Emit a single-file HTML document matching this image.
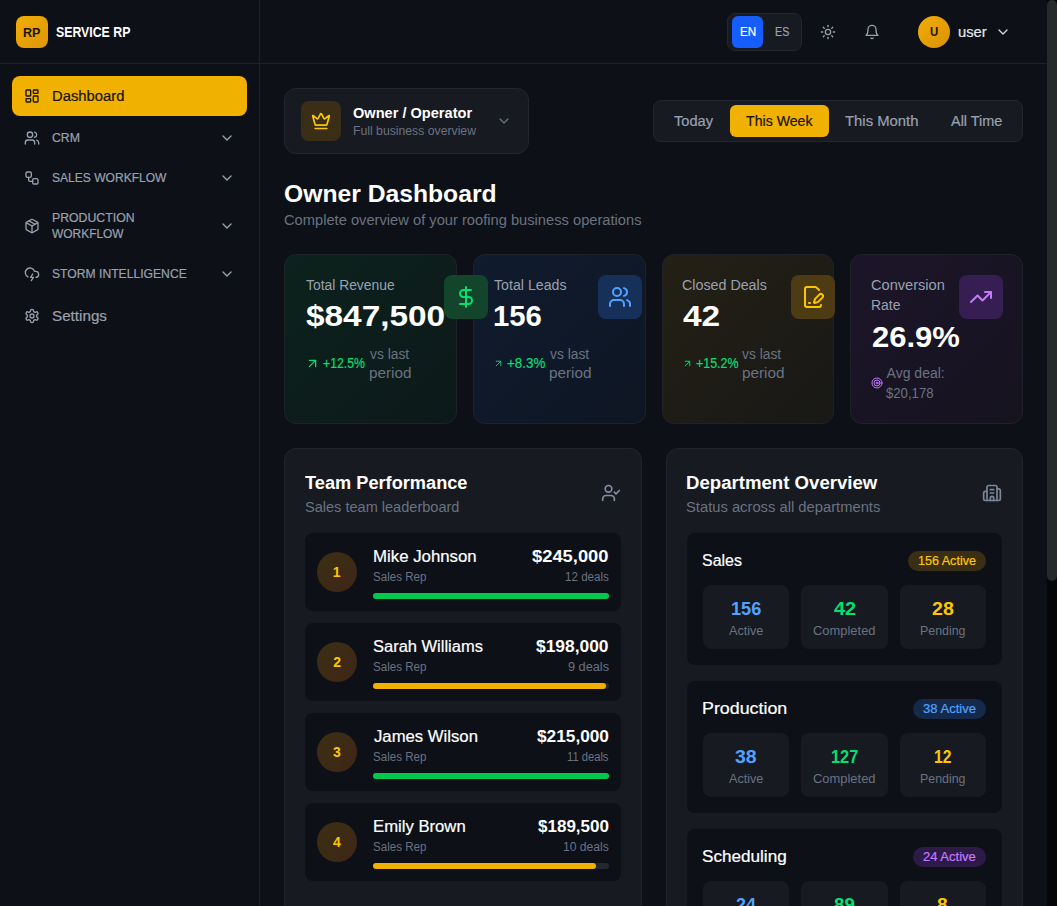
<!DOCTYPE html>
<html lang="en">
<head>
<meta charset="utf-8">
<title>Service RP - Owner Dashboard</title>
<style>
*{box-sizing:border-box;margin:0;padding:0}
html,body{width:1057px;height:906px;overflow:hidden;background:#0d1017}
body{position:relative;font-family:"Liberation Sans",sans-serif;color:#fff}
div,svg,span{position:absolute;display:block}
span{white-space:nowrap;line-height:1;transform-origin:0 0}
span.m{-webkit-text-stroke:.2px currentColor}
.sb i{position:absolute;left:0;top:0;width:10px;height:581px;border-radius:5px;background:#26292e}
</style>
</head>
<body>
<aside>
<div style="left:0px;top:63px;width:259px;height:1px;background:#1d2129;"></div>
<div style="left:259px;top:0px;width:1px;height:906px;background:#1d2129;"></div>
<div style="left:16px;top:16px;width:32px;height:32px;background:linear-gradient(135deg,#f2ae04,#de9505);border-radius:8px;"></div>
<span style="left:23.41px;top:25.6px;font-size:13px;color:#1b1303;font-weight:700;transform:scaleX(0.9659);">RP</span>
<span style="left:56.49px;top:25.15px;font-size:14px;color:#ffffff;font-weight:700;transform:scaleX(0.8794);">SERVICE RP</span>
<nav>
<div style="left:12px;top:76px;width:235px;height:40px;background:#f0b100;border-radius:8px;"></div>
<svg style="left:24px;top:88px" width="16" height="16" viewBox="0 0 24 24" fill="none" stroke="#1b1303" stroke-width="2" stroke-linecap="round" stroke-linejoin="round"><rect width="7" height="9" x="3" y="3" rx="1"/><rect width="7" height="5" x="14" y="3" rx="1"/><rect width="7" height="9" x="14" y="12" rx="1"/><rect width="7" height="5" x="3" y="16" rx="1"/></svg>
<span class="m" style="left:51.55px;top:89.05px;font-size:14px;color:#1b1303;transform:scaleX(1.0577);">Dashboard</span>
<svg style="left:24px;top:130px" width="16" height="16" viewBox="0 0 24 24" fill="none" stroke="#99a1af" stroke-width="2" stroke-linecap="round" stroke-linejoin="round"><path d="M16 21v-2a4 4 0 0 0-4-4H6a4 4 0 0 0-4 4v2"/><circle cx="9" cy="7" r="4"/><path d="M22 21v-2a4 4 0 0 0-3-3.87"/><path d="M16 3.13a4 4 0 0 1 0 7.75"/></svg>
<span class="m" style="left:52.42px;top:131.54px;font-size:12px;color:#99a1af;transform:scaleX(1.0241);">CRM</span>
<svg style="left:219px;top:130px" width="16" height="16" viewBox="0 0 24 24" fill="none" stroke="#99a1af" stroke-width="2" stroke-linecap="round" stroke-linejoin="round"><path d="m6 9 6 6 6-6"/></svg>
<svg style="left:24px;top:170px" width="16" height="16" viewBox="0 0 24 24" fill="none" stroke="#99a1af" stroke-width="2" stroke-linecap="round" stroke-linejoin="round"><rect width="8" height="8" x="3" y="3" rx="2"/><path d="M7 11v4a2 2 0 0 0 2 2h4"/><rect width="8" height="8" x="13" y="13" rx="2"/></svg>
<span class="m" style="left:52.29px;top:171.84px;font-size:12px;color:#99a1af;transform:scaleX(1.0039);">SALES WORKFLOW</span>
<svg style="left:219px;top:170px" width="16" height="16" viewBox="0 0 24 24" fill="none" stroke="#99a1af" stroke-width="2" stroke-linecap="round" stroke-linejoin="round"><path d="m6 9 6 6 6-6"/></svg>
<svg style="left:24px;top:218px" width="16" height="16" viewBox="0 0 24 24" fill="none" stroke="#99a1af" stroke-width="2" stroke-linecap="round" stroke-linejoin="round"><path d="m7.5 4.27 9 5.15"/><path d="M21 8a2 2 0 0 0-1-1.73l-7-4a2 2 0 0 0-2 0l-7 4A2 2 0 0 0 3 8v8a2 2 0 0 0 1 1.73l7 4a2 2 0 0 0 2 0l7-4A2 2 0 0 0 21 16Z"/><path d="m3.3 7 8.7 5 8.7-5"/><path d="M12 22V12"/></svg>
<span class="m" style="left:52.36px;top:211.94px;font-size:12px;color:#99a1af;transform:scaleX(1.0237);">PRODUCTION</span>
<span class="m" style="left:51.64px;top:227.84px;font-size:12px;color:#99a1af;transform:scaleX(0.9948);">WORKFLOW</span>
<svg style="left:219px;top:218px" width="16" height="16" viewBox="0 0 24 24" fill="none" stroke="#99a1af" stroke-width="2" stroke-linecap="round" stroke-linejoin="round"><path d="m6 9 6 6 6-6"/></svg>
<svg style="left:24px;top:266px" width="16" height="16" viewBox="0 0 24 24" fill="none" stroke="#99a1af" stroke-width="2" stroke-linecap="round" stroke-linejoin="round"><path d="M6 16.326A7 7 0 1 1 15.71 8h1.79a4.5 4.5 0 0 1 .5 8.973"/><path d="m13 12-3 5h4l-3 5"/></svg>
<span class="m" style="left:51.66px;top:268.04px;font-size:12px;color:#99a1af;transform:scaleX(1.0121);">STORM INTELLIGENCE</span>
<svg style="left:219px;top:266px" width="16" height="16" viewBox="0 0 24 24" fill="none" stroke="#99a1af" stroke-width="2" stroke-linecap="round" stroke-linejoin="round"><path d="m6 9 6 6 6-6"/></svg>
<svg style="left:24px;top:308px" width="16" height="16" viewBox="0 0 24 24" fill="none" stroke="#99a1af" stroke-width="2" stroke-linecap="round" stroke-linejoin="round"><path d="M12.22 2h-.44a2 2 0 0 0-2 2v.18a2 2 0 0 1-1 1.73l-.43.25a2 2 0 0 1-2 0l-.15-.08a2 2 0 0 0-2.73.73l-.22.38a2 2 0 0 0 .73 2.73l.15.1a2 2 0 0 1 1 1.72v.51a2 2 0 0 1-1 1.74l-.15.09a2 2 0 0 0-.73 2.73l.22.38a2 2 0 0 0 2.73.73l.15-.08a2 2 0 0 1 2 0l.43.25a2 2 0 0 1 1 1.73V20a2 2 0 0 0 2 2h.44a2 2 0 0 0 2-2v-.18a2 2 0 0 1 1-1.73l.43-.25a2 2 0 0 1 2 0l.15.08a2 2 0 0 0 2.73-.73l.22-.39a2 2 0 0 0-.73-2.73l-.15-.08a2 2 0 0 1-1-1.74v-.5a2 2 0 0 1 1-1.74l.15-.09a2 2 0 0 0 .73-2.73l-.22-.38a2 2 0 0 0-2.73-.73l-.15.08a2 2 0 0 1-2 0l-.43-.25a2 2 0 0 1-1-1.73V4a2 2 0 0 0-2-2z"/><circle cx="12" cy="12" r="3"/></svg>
<span class="m" style="left:51.62px;top:308.55px;font-size:14px;color:#99a1af;transform:scaleX(1.0863);">Settings</span>
</nav></aside>
<header>
<div style="left:260px;top:63px;width:787px;height:1px;background:#1d2129;"></div>
<div style="left:727px;top:13px;width:75px;height:38px;background:#171a21;border-radius:8px;border:1px solid #23272f;"></div>
<div style="left:732px;top:16px;width:31px;height:32px;background:#155dfc;border-radius:6px;"></div>
<span class="m" style="left:740.27px;top:26.04px;font-size:12px;color:#ffffff;transform:scaleX(0.9744);">EN</span>
<span class="m" style="left:775.19px;top:26.04px;font-size:12px;color:#99a1af;transform:scaleX(0.8943);">ES</span>
<svg style="left:820px;top:24px" width="16" height="16" viewBox="0 0 24 24" fill="none" stroke="#99a1af" stroke-width="2" stroke-linecap="round" stroke-linejoin="round"><circle cx="12" cy="12" r="4"/><path d="M12 2v2"/><path d="M12 20v2"/><path d="m4.93 4.93 1.41 1.41"/><path d="m17.66 17.66 1.41 1.41"/><path d="M2 12h2"/><path d="M20 12h2"/><path d="m6.34 17.66-1.41 1.41"/><path d="m19.07 4.93-1.41 1.41"/></svg>
<svg style="left:864px;top:24px" width="16" height="16" viewBox="0 0 24 24" fill="none" stroke="#99a1af" stroke-width="2" stroke-linecap="round" stroke-linejoin="round"><path d="M6 8a6 6 0 0 1 12 0c0 7 3 9 3 9H3s3-2 3-9"/><path d="M10.3 21a1.94 1.94 0 0 0 3.4 0"/></svg>
<div style="left:918px;top:16px;width:32px;height:32px;background:linear-gradient(135deg,#f1ad04,#db9105);border-radius:50%;"></div>
<span style="left:929.98px;top:26.14px;font-size:12px;color:#1b1303;font-weight:700;transform:scaleX(0.9498);">U</span>
<span class="m" style="left:957.82px;top:25.45px;font-size:14px;color:#e5e7eb;transform:scaleX(1.0515);">user</span>
<svg style="left:995px;top:24px" width="16" height="16" viewBox="0 0 24 24" fill="none" stroke="#d1d5dc" stroke-width="2" stroke-linecap="round" stroke-linejoin="round"><path d="m6 9 6 6 6-6"/></svg>
</header>
<main>
<div style="left:284px;top:88px;width:245px;height:66px;background:#171a21;border-radius:12px;border:1px solid #22262e;"></div>
<div style="left:301px;top:101px;width:40px;height:40px;background:#3a2f16;border-radius:8px;"></div>
<svg style="left:311px;top:111px" width="20" height="20" viewBox="0 0 24 24" fill="none" stroke="#fdc700" stroke-width="2" stroke-linecap="round" stroke-linejoin="round"><path d="M11.562 3.266a.5.5 0 0 1 .876 0L15.39 8.87a1 1 0 0 0 1.516.294L21.183 5.5a.5.5 0 0 1 .798.519l-2.834 10.246a1 1 0 0 1-.956.734H5.81a1 1 0 0 1-.957-.734L2.02 6.02a.5.5 0 0 1 .798-.519l4.276 3.664a1 1 0 0 0 1.516-.294z"/><path d="M5 21h14"/></svg>
<span style="left:352.62px;top:106.05px;font-size:14px;color:#ffffff;font-weight:700;transform:scaleX(1.0412);">Owner / Operator</span>
<span style="left:353.09px;top:125.24px;font-size:12px;color:#6a7282;transform:scaleX(1.0187);">Full business overview</span>
<svg style="left:496px;top:113px" width="16" height="16" viewBox="0 0 24 24" fill="none" stroke="#6a7282" stroke-width="2" stroke-linecap="round" stroke-linejoin="round"><path d="m6 9 6 6 6-6"/></svg>
<div style="left:653px;top:100px;width:370px;height:42px;background:#171a21;border-radius:8px;border:1px solid #22262e;"></div>
<div style="left:730px;top:105px;width:99px;height:32px;background:#f0b100;border-radius:6px;"></div>
<span class="m" style="left:673.64px;top:114.15px;font-size:14px;color:#99a1af;transform:scaleX(1.0434);">Today</span>
<span class="m" style="left:745.5px;top:114.15px;font-size:14px;color:#1b1303;transform:scaleX(1.01);">This Week</span>
<span class="m" style="left:845.22px;top:114.15px;font-size:14px;color:#99a1af;transform:scaleX(1.0615);">This Month</span>
<span class="m" style="left:951.45px;top:114.15px;font-size:14px;color:#99a1af;transform:scaleX(1.0312);">All Time</span>
<span style="left:284.06px;top:182.08px;font-size:24px;color:#ffffff;font-weight:700;transform:scaleX(1.0285);">Owner Dashboard</span>
<span style="left:283.96px;top:212.85px;font-size:14px;color:#6a7282;transform:scaleX(1.049);">Complete overview of your roofing business operations</span>
<div style="left:284px;top:254px;width:172.75px;height:170px;background:linear-gradient(135deg,#0c221d 0%,#0c191a 100%);border-radius:12px;border:1px solid #1f2329;"></div>
<div style="left:472.75px;top:254px;width:172.75px;height:170px;background:linear-gradient(135deg,#101b2e 0%,#0e1623 100%);border-radius:12px;border:1px solid #1f2329;"></div>
<div style="left:661.5px;top:254px;width:172.75px;height:170px;background:linear-gradient(135deg,#242015 0%,#181816 100%);border-radius:12px;border:1px solid #1f2329;"></div>
<div style="left:850.25px;top:254px;width:172.75px;height:170px;background:linear-gradient(135deg,#1c1529 0%,#16131f 100%);border-radius:12px;border:1px solid #1f2329;"></div>
<span style="left:306.04px;top:278.25px;font-size:14px;color:#99a1af;transform:scaleX(0.9904);">Total Revenue</span>
<span style="left:305.52px;top:301.41px;font-size:30px;color:#ffffff;font-weight:700;transform:scaleX(1.1119);">$847,500</span>
<svg style="left:304.7px;top:355.5px" width="15" height="15" viewBox="0 0 24 24" fill="none" stroke="#05df72" stroke-width="2" stroke-linecap="round" stroke-linejoin="round"><path d="M7 7h10v10"/><path d="M7 17 17 7"/></svg>
<span class="m" style="left:323.32px;top:355.95px;font-size:14px;color:#05df72;transform:scaleX(0.8763);">+12.5%</span>
<span style="left:370.07px;top:346.55px;font-size:14px;color:#6a7282;transform:scaleX(0.9874);">vs last</span>
<span style="left:369.37px;top:365.95px;font-size:14px;color:#6a7282;transform:scaleX(1.0933);">period</span>
<span style="left:494.32px;top:278.25px;font-size:14px;color:#99a1af;transform:scaleX(1.013);">Total Leads</span>
<span style="left:492.69px;top:301.41px;font-size:30px;color:#ffffff;font-weight:700;transform:scaleX(0.9765);">156</span>
<svg style="left:493.1px;top:357.5px" width="11" height="11" viewBox="0 0 24 24" fill="none" stroke="#05df72" stroke-width="2" stroke-linecap="round" stroke-linejoin="round"><path d="M7 7h10v10"/><path d="M7 17 17 7"/></svg>
<span class="m" style="left:506.68px;top:355.95px;font-size:14px;color:#05df72;transform:scaleX(0.9552);">+8.3%</span>
<span style="left:550.27px;top:346.55px;font-size:14px;color:#6a7282;transform:scaleX(0.9874);">vs last</span>
<span style="left:549.29px;top:365.95px;font-size:14px;color:#6a7282;transform:scaleX(1.0933);">period</span>
<div style="left:598px;top:275px;width:44px;height:44px;background:#16305a;border-radius:8px;"></div>
<svg style="left:608px;top:285px" width="24" height="24" viewBox="0 0 24 24" fill="none" stroke="#51a2ff" stroke-width="2" stroke-linecap="round" stroke-linejoin="round"><path d="M16 21v-2a4 4 0 0 0-4-4H6a4 4 0 0 0-4 4v2"/><circle cx="9" cy="7" r="4"/><path d="M22 21v-2a4 4 0 0 0-3-3.87"/><path d="M16 3.13a4 4 0 0 1 0 7.75"/></svg>
<div style="left:444px;top:275px;width:44px;height:44px;background:#12452b;border-radius:8px;"></div>
<svg style="left:454px;top:285px" width="24" height="24" viewBox="0 0 24 24" fill="none" stroke="#05df72" stroke-width="2" stroke-linecap="round" stroke-linejoin="round"><line x1="12" x2="12" y1="2" y2="22"/><path d="M17 5H9.5a3.5 3.5 0 0 0 0 7h5a3.5 3.5 0 0 1 0 7H6"/></svg>
<span style="left:682.04px;top:278.25px;font-size:14px;color:#99a1af;transform:scaleX(1.0191);">Closed Deals</span>
<span style="left:683.22px;top:301.41px;font-size:30px;color:#ffffff;font-weight:700;transform:scaleX(1.1143);">42</span>
<svg style="left:682.1px;top:357.5px" width="11" height="11" viewBox="0 0 24 24" fill="none" stroke="#05df72" stroke-width="2" stroke-linecap="round" stroke-linejoin="round"><path d="M7 7h10v10"/><path d="M7 17 17 7"/></svg>
<span class="m" style="left:695.8px;top:355.95px;font-size:14px;color:#05df72;transform:scaleX(0.8868);">+15.2%</span>
<span style="left:742.15px;top:346.55px;font-size:14px;color:#6a7282;transform:scaleX(0.9874);">vs last</span>
<span style="left:742.36px;top:365.95px;font-size:14px;color:#6a7282;transform:scaleX(1.0933);">period</span>
<div style="left:791px;top:275px;width:44px;height:44px;background:#4d3b14;border-radius:8px;"></div>
<svg style="left:801px;top:285px" width="24" height="24" viewBox="0 0 24 24" fill="none" stroke="#fdc700" stroke-width="2" stroke-linecap="round" stroke-linejoin="round"><path d="m18 5-2.414-2.414A2 2 0 0 0 14.172 2H6a2 2 0 0 0-2 2v16a2 2 0 0 0 2 2h12a2 2 0 0 0 2-2"/><path d="M21.378 12.626a1 1 0 0 0-3.004-3.004l-4.01 4.012a2 2 0 0 0-.506.854l-.837 2.87a.5.5 0 0 0 .62.62l2.87-.837a2 2 0 0 0 .854-.506z"/><path d="M8 18h1"/></svg>
<span style="left:871.01px;top:278.25px;font-size:14px;color:#99a1af;transform:scaleX(1.0425);">Conversion</span>
<span style="left:870.6px;top:298.05px;font-size:14px;color:#99a1af;transform:scaleX(0.9933);">Rate</span>
<span style="left:872.29px;top:322.21px;font-size:30px;color:#ffffff;font-weight:700;transform:scaleX(1.0332);">26.9%</span>
<div style="left:959px;top:275px;width:44px;height:44px;background:#371e52;border-radius:8px;"></div>
<svg style="left:969px;top:285px" width="24" height="24" viewBox="0 0 24 24" fill="none" stroke="#c27aff" stroke-width="2" stroke-linecap="round" stroke-linejoin="round"><polyline points="22 7 13.5 15.5 8.5 10.5 2 17"/><polyline points="16 7 22 7 22 13"/></svg>
<svg style="left:870.5px;top:377px" width="12" height="12" viewBox="0 0 24 24" fill="none" stroke="#c27aff" stroke-width="2" stroke-linecap="round" stroke-linejoin="round"><circle cx="12" cy="12" r="10"/><circle cx="12" cy="12" r="6"/><circle cx="12" cy="12" r="2"/></svg>
<span style="left:886.62px;top:366.35px;font-size:14px;color:#6a7282;">Avg deal:</span>
<span style="left:885.69px;top:386.15px;font-size:14px;color:#6a7282;transform:scaleX(0.9384);">$20,178</span>
<div style="left:284px;top:448px;width:357.5px;height:500px;background:#171a21;border-radius:12px;border:1px solid #21242b;"></div>
<span style="left:304.6px;top:474.06px;font-size:18px;color:#ffffff;font-weight:700;transform:scaleX(1.0109);">Team Performance</span>
<span style="left:304.53px;top:500.05px;font-size:14px;color:#6a7282;transform:scaleX(1.0388);">Sales team leaderboard</span>
<svg style="left:601px;top:483px" width="20" height="20" viewBox="0 0 24 24" fill="none" stroke="#858e9f" stroke-width="2" stroke-linecap="round" stroke-linejoin="round"><path d="m16 11 2 2 4-4"/><path d="M16 21v-2a4 4 0 0 0-4-4H6a4 4 0 0 0-4 4v2"/><circle cx="9" cy="7" r="4"/></svg>
<div style="left:305px;top:533px;width:316px;height:78px;background:#0d1017;border-radius:8px;"></div>
<div style="left:317px;top:552px;width:40px;height:40px;background:linear-gradient(135deg,#3b2f14,#3f2616);border-radius:50%;"></div>
<span style="left:332.82px;top:565.05px;font-size:14px;color:#fdc700;font-weight:700;">1</span>
<span class="m" style="left:372.56px;top:549.46px;font-size:16px;color:#ffffff;transform:scaleX(1.0503);">Mike Johnson</span>
<span style="left:373.28px;top:570.84px;font-size:12px;color:#6a7282;transform:scaleX(0.9655);">Sales Rep</span>
<span style="left:531.74px;top:549.06px;font-size:16px;color:#ffffff;font-weight:700;transform:scaleX(1.1458);">$245,000</span>
<span style="left:564.72px;top:570.84px;font-size:12px;color:#6a7282;transform:scaleX(0.9682);">12 deals</span>
<div style="left:373px;top:593px;width:236px;height:6px;background:#23272f;border-radius:3px;"></div>
<div style="left:373px;top:593px;width:236px;height:6px;background:#00c950;border-radius:3px;"></div>
<div style="left:305px;top:623px;width:316px;height:78px;background:#0d1017;border-radius:8px;"></div>
<div style="left:317px;top:642px;width:40px;height:40px;background:linear-gradient(135deg,#3b2f14,#3f2616);border-radius:50%;"></div>
<span style="left:333.13px;top:655.05px;font-size:14px;color:#fdc700;font-weight:700;">2</span>
<span class="m" style="left:373.02px;top:639.46px;font-size:16px;color:#ffffff;transform:scaleX(1.03);">Sarah Williams</span>
<span style="left:373.28px;top:660.84px;font-size:12px;color:#6a7282;transform:scaleX(0.9655);">Sales Rep</span>
<span style="left:536.18px;top:639.06px;font-size:16px;color:#ffffff;font-weight:700;transform:scaleX(1.0864);">$198,000</span>
<span style="left:568.12px;top:660.84px;font-size:12px;color:#6a7282;transform:scaleX(1.0613);">9 deals</span>
<div style="left:373px;top:683px;width:236px;height:6px;background:#23272f;border-radius:3px;"></div>
<div style="left:373px;top:683px;width:233px;height:6px;background:#f0b100;border-radius:3px;"></div>
<div style="left:305px;top:713px;width:316px;height:78px;background:#0d1017;border-radius:8px;"></div>
<div style="left:317px;top:732px;width:40px;height:40px;background:linear-gradient(135deg,#3b2f14,#3f2616);border-radius:50%;"></div>
<span style="left:333.04px;top:745.05px;font-size:14px;color:#fdc700;font-weight:700;">3</span>
<span class="m" style="left:374.18px;top:729.46px;font-size:16px;color:#ffffff;transform:scaleX(1.0436);">James Wilson</span>
<span style="left:373.28px;top:750.84px;font-size:12px;color:#6a7282;transform:scaleX(0.9655);">Sales Rep</span>
<span style="left:537.09px;top:729.06px;font-size:16px;color:#ffffff;font-weight:700;transform:scaleX(1.0783);">$215,000</span>
<span style="left:566.97px;top:750.84px;font-size:12px;color:#6a7282;transform:scaleX(0.9323);">11 deals</span>
<div style="left:373px;top:773px;width:236px;height:6px;background:#23272f;border-radius:3px;"></div>
<div style="left:373px;top:773px;width:236px;height:6px;background:#00c950;border-radius:3px;"></div>
<div style="left:305px;top:803px;width:316px;height:78px;background:#0d1017;border-radius:8px;"></div>
<div style="left:317px;top:822px;width:40px;height:40px;background:linear-gradient(135deg,#3b2f14,#3f2616);border-radius:50%;"></div>
<span style="left:333.05px;top:835.05px;font-size:14px;color:#fdc700;font-weight:700;">4</span>
<span class="m" style="left:373.28px;top:819.46px;font-size:16px;color:#ffffff;transform:scaleX(1.0426);">Emily Brown</span>
<span style="left:373.28px;top:840.84px;font-size:12px;color:#6a7282;transform:scaleX(0.9655);">Sales Rep</span>
<span style="left:537.75px;top:819.06px;font-size:16px;color:#ffffff;font-weight:700;transform:scaleX(1.0634);">$189,500</span>
<span style="left:562.67px;top:840.84px;font-size:12px;color:#6a7282;transform:scaleX(1.0107);">10 deals</span>
<div style="left:373px;top:863px;width:236px;height:6px;background:#23272f;border-radius:3px;"></div>
<div style="left:373px;top:863px;width:223px;height:6px;background:#f0b100;border-radius:3px;"></div>
<div style="left:665.5px;top:448px;width:357.5px;height:500px;background:#171a21;border-radius:12px;border:1px solid #21242b;"></div>
<span style="left:685.56px;top:474.06px;font-size:18px;color:#ffffff;font-weight:700;transform:scaleX(1.0339);">Department Overview</span>
<span style="left:685.78px;top:500.05px;font-size:14px;color:#6a7282;transform:scaleX(1.0536);">Status across all departments</span>
<svg style="left:982px;top:483px" width="20" height="20" viewBox="0 0 24 24" fill="none" stroke="#7d8697" stroke-width="2" stroke-linecap="round" stroke-linejoin="round"><path d="M10 12h4"/><path d="M10 8h4"/><path d="M14 21v-3a2 2 0 0 0-4 0v3"/><path d="M6 10H4a2 2 0 0 0-2 2v7a2 2 0 0 0 2 2h16a2 2 0 0 0 2-2V9a2 2 0 0 0-2-2h-2"/><path d="M6 21V5a2 2 0 0 1 2-2h8a2 2 0 0 1 2 2v16"/></svg>
<div style="left:687px;top:533px;width:315px;height:132px;background:#0d1017;border-radius:8px;"></div>
<span class="m" style="left:702.06px;top:552.66px;font-size:16px;color:#ffffff;transform:scaleX(0.9961);">Sales</span>
<div style="left:908px;top:551px;width:78px;height:20px;background:#3a2f14;border-radius:10px;"></div>
<span class="m" style="left:917.93px;top:555.14px;font-size:12px;color:#fdc700;transform:scaleX(1.0463);">156 Active</span>
<div style="left:703px;top:585px;width:86.33px;height:64px;background:#171a21;border-radius:8px;"></div>
<span style="left:730.61px;top:599.66px;font-size:18px;color:#51a2ff;font-weight:700;transform:scaleX(1.0096);">156</span>
<span style="left:728.67px;top:624.74px;font-size:12px;color:#6a7282;transform:scaleX(1.0494);">Active</span>
<div style="left:801.33px;top:585px;width:86.33px;height:64px;background:#171a21;border-radius:8px;"></div>
<span style="left:833.82px;top:599.66px;font-size:18px;color:#05df72;font-weight:700;transform:scaleX(1.1108);">42</span>
<span style="left:813.25px;top:624.74px;font-size:12px;color:#6a7282;transform:scaleX(1.0773);">Completed</span>
<div style="left:899.66px;top:585px;width:86.33px;height:64px;background:#171a21;border-radius:8px;"></div>
<span style="left:931.87px;top:599.66px;font-size:18px;color:#fdc700;font-weight:700;transform:scaleX(1.0901);">28</span>
<span style="left:920.17px;top:624.74px;font-size:12px;color:#6a7282;transform:scaleX(1.0324);">Pending</span>
<div style="left:687px;top:681px;width:315px;height:132px;background:#0d1017;border-radius:8px;"></div>
<span class="m" style="left:701.51px;top:700.66px;font-size:16px;color:#ffffff;transform:scaleX(1.1142);">Production</span>
<div style="left:913.4px;top:699px;width:72.6px;height:20px;background:#15294b;border-radius:10px;"></div>
<span class="m" style="left:923.39px;top:703.14px;font-size:12px;color:#51a2ff;transform:scaleX(1.0882);">38 Active</span>
<div style="left:703px;top:733px;width:86.33px;height:64px;background:#171a21;border-radius:8px;"></div>
<span style="left:735.25px;top:747.66px;font-size:18px;color:#51a2ff;font-weight:700;transform:scaleX(1.0834);">38</span>
<span style="left:728.67px;top:772.74px;font-size:12px;color:#6a7282;transform:scaleX(1.0494);">Active</span>
<div style="left:801.33px;top:733px;width:86.33px;height:64px;background:#171a21;border-radius:8px;"></div>
<span style="left:830.72px;top:747.66px;font-size:18px;color:#05df72;font-weight:700;transform:scaleX(0.9095);">127</span>
<span style="left:813.25px;top:772.74px;font-size:12px;color:#6a7282;transform:scaleX(1.0773);">Completed</span>
<div style="left:899.66px;top:733px;width:86.33px;height:64px;background:#171a21;border-radius:8px;"></div>
<span style="left:933.59px;top:747.66px;font-size:18px;color:#fdc700;font-weight:700;transform:scaleX(0.8695);">12</span>
<span style="left:920.17px;top:772.74px;font-size:12px;color:#6a7282;transform:scaleX(1.0324);">Pending</span>
<div style="left:687px;top:829px;width:315px;height:132px;background:#0d1017;border-radius:8px;"></div>
<span class="m" style="left:701.9px;top:848.66px;font-size:16px;color:#ffffff;transform:scaleX(1.0694);">Scheduling</span>
<div style="left:913.4px;top:847px;width:72.6px;height:20px;background:#2e1a47;border-radius:10px;"></div>
<span class="m" style="left:923.01px;top:851.14px;font-size:12px;color:#c27aff;transform:scaleX(1.0839);">24 Active</span>
<div style="left:703px;top:881px;width:86.33px;height:64px;background:#171a21;border-radius:8px;"></div>
<span style="left:735.68px;top:895.66px;font-size:18px;color:#51a2ff;font-weight:700;transform:scaleX(0.9931);">24</span>
<span style="left:728.67px;top:920.74px;font-size:12px;color:#6a7282;transform:scaleX(1.0494);">Active</span>
<div style="left:801.33px;top:881px;width:86.33px;height:64px;background:#171a21;border-radius:8px;"></div>
<span style="left:834.08px;top:895.66px;font-size:18px;color:#05df72;font-weight:700;transform:scaleX(1.0421);">89</span>
<span style="left:813.25px;top:920.74px;font-size:12px;color:#6a7282;transform:scaleX(1.0773);">Completed</span>
<div style="left:899.66px;top:881px;width:86.33px;height:64px;background:#171a21;border-radius:8px;"></div>
<span style="left:937.32px;top:895.66px;font-size:18px;color:#fdc700;font-weight:700;transform:scaleX(1.0617);">8</span>
<span style="left:920.17px;top:920.74px;font-size:12px;color:#6a7282;transform:scaleX(1.0324);">Pending</span>
</main>
<div class="sb" style="left:1047px;top:0px;width:10px;height:906px;background:#04060a;"><i></i></div>
</body>
</html>
